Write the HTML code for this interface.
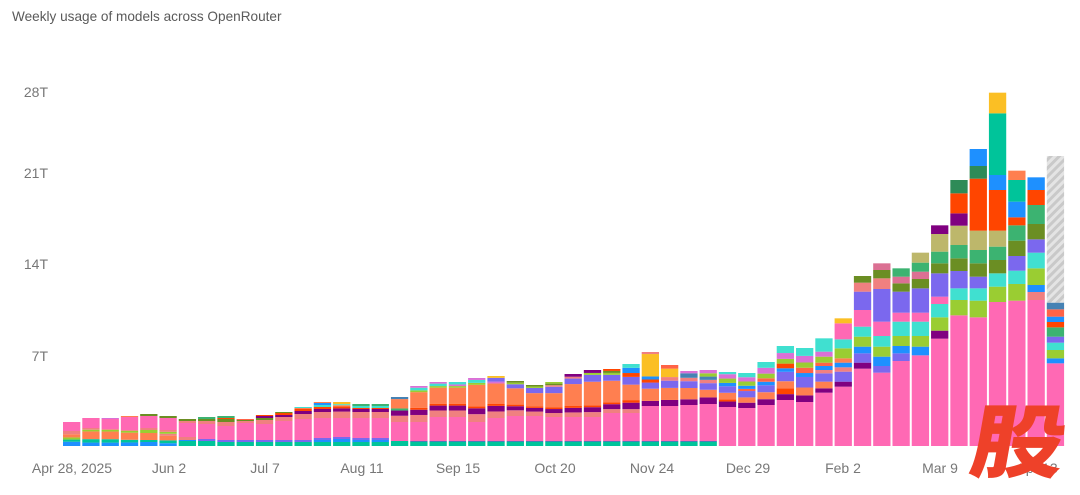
<!DOCTYPE html>
<html><head><meta charset="utf-8">
<style>
html,body{margin:0;padding:0;background:#fff;}
body{width:1080px;height:495px;position:relative;overflow:hidden;font-family:"Liberation Sans",sans-serif;}
.t{position:absolute;left:12px;top:9px;font-size:13.6px;color:#5a5a5a;white-space:nowrap;}
.y{position:absolute;right:1032px;font-size:14px;color:#777;transform:translateY(-50%);}
.x{position:absolute;top:460px;font-size:14px;color:#777;transform:translateX(-50%);white-space:nowrap;}
.wm{position:absolute;left:980px;top:397px;font-family:"Noto Sans CJK SC","WenQuanYi Zen Hei",sans-serif;font-weight:900;font-size:94px;line-height:94px;color:#ee4129;transform:skewX(-10deg) scaleY(0.85);transform-origin:0 0;}
svg{position:absolute;left:0;top:0;}
</style></head><body>
<div class="t">Weekly usage of models across OpenRouter</div>
<div class="y" style="top:92px">28T</div>
<div class="y" style="top:173px">21T</div>
<div class="y" style="top:264px">14T</div>
<div class="y" style="top:356px">7T</div>
<svg id="s" width="1080" height="495" xmlns="http://www.w3.org/2000/svg">
<defs><pattern id="h" width="6" height="6" patternUnits="userSpaceOnUse" patternTransform="rotate(45)"><rect width="6" height="6" fill="#e4e4e4"/><rect width="3" height="6" fill="#c9c9c9"/></pattern></defs>
</svg>
<div class="x" style="left:72px">Apr 28, 2025</div>
<div class="x" style="left:169px">Jun 2</div>
<div class="x" style="left:265px">Jul 7</div>
<div class="x" style="left:362px">Aug 11</div>
<div class="x" style="left:458px">Sep 15</div>
<div class="x" style="left:555px">Oct 20</div>
<div class="x" style="left:652px">Nov 24</div>
<div class="x" style="left:748px">Dec 29</div>
<div class="x" style="left:843px">Feb 2</div>
<div class="x" style="left:940px">Mar 9</div>
<div class="x" style="left:1037px">Apr 13</div>
<div class="wm">股</div>
<script>
const C={pk:'#ff69b4',pu:'#800080',or:'#ff7f50',mp:'#7b68ee',sa:'#f08080',bl:'#1e90ff',tq:'#40e0d0',gr:'#9acd32',ol:'#6b8e23',pv:'#db7093',sg:'#3cb371',kh:'#bdb76b',rd:'#ff4500',dg:'#2e8b57',tg:'#00c49a',gd:'#fbbf24',oc:'#da70d6',sb:'#4682b4',tm:'#ff6347'};
const B=446,W=17.3,P=19.29,X0=63;
const s=document.getElementById('s');
function r(x,y1,y2,c){if(y2-y1<=0)return;const e=document.createElementNS('http://www.w3.org/2000/svg','rect');e.setAttribute('x',x);e.setAttribute('y',y1);e.setAttribute('width',W);e.setAttribute('height',y2-y1);e.setAttribute('fill',c);s.appendChild(e);}
function fill(x,yb,yt,segs){
 let tot=0;segs.forEach(q=>tot+=q[1]);let y=yb;
 segs.forEach(q=>{const h=(yb-yt)*q[1]/tot;r(x,y-h,y,C[q[0]]||q[0]);y-=h;});}
function p(str){return str.split(' ').map(t=>{const m=t.match(/([a-z]+)(\d+)/);return [m[1],+m[2]];});}
const E=[
[422,422,431,'bl4 tg2 gr2 or3 sa3',''],
[418,418,428,'bl4 tg4 or9 gr2 sa2',''],
[418,419,429,'bl4 tg4 or9 gr2 sa1','oc1'],
[416,417,430,'bl4 tg3 or8 gr2 sa1','or1'],
[414,416,428,'bl4 tg2 or7 gr3 sa2','ol2'],
[416,418,430,'bl3 tg3 or5 sa2 gr2 sa2','ol2'],
[419,423,437,'tg5 bl1 sa3','sa2 ol2'],
[417,424,439,'tg5 mp2','sa3 ol2 sg2'],
[416,426,440,'tg4 mp2','sa4 ol3 rd1 sg2'],
[419,423,440,'tg4 mp2','sa2 ol1 tm1'],
[415,424,440,'tg4 mp2','sa4 ol2 pu2 rd1'],
[412,421,440,'tg4 mp2','sa4 pu2 rd2 ol1'],
[407,419,440,'tg4 mp2','sa5 pu3 rd2 or1 tq1'],
[402,418,438,'tg4 bl2 mp2','sa6 pu3 rd2 tq2 bl2 or1'],
[402,418,437,'tg4 bl3 mp2','sa6 pu3 rd2 or1 tq1 gd2'],
[404,418,438,'tg4 bl2 mp2','sa6 pu3 rd1 tq2 sg2'],
[404,418,438,'tg4 bl2 mp2','sa6 pu3 rd1 tq2 sg2'],
[397,422,441,'tg5','sa6 pu5 sg2 or9 sb2'],
];
const mid=[[386,422],[382,417],[382,417],[378,422],[376,418],[381,416],[385,416],[382,417],[374,417],[370,417],[369,413],[364,413],[352,406],[365,406],[371,405],[370,404],[372,407],[373,408],[362,405],[346,400],[348,402]];
const midAbove=[
'sa8 pu6 rd2 or18 gr2 tq3 oc2','sa8 pu6 rd2 or20 gr2 tq3 oc2','sa8 pu6 rd2 or20 gr2 oc2 tq3','sa8 pu6 rd2 or22 gr2 tq3 oc2','sa7 pu6 rd2 or22 oc2 mp4 gd2','sa7 pu5 rd2 or20 mp5 gr2 ol2',
'sa6 pu5 rd2 or18 mp7 gr2 ol2','sa5 pu5 rd2 or18 mp8 sa2 ol2 gr2','sa5 pu5 rd2 or24 mp6 sa2 pu3','sa5 pu5 rd2 or24 mp7 gr2 pu3','sa4 pu5 rd2 or22 mp6 gr2 ol2 rd2','sa3 pu5 rd2 or12 mp6 rd3 bl4 tq3',
'pu5 or12 mp6 rd3 bl3 gd22 sa2','pu5 or10 mp6 sa3 gd7 tm3','pu5 or10 mp6 sa3 sb4 oc2','pu6 or7 mp6 sa3 sb3 gr3 oc3','pu5 rd2 or6 mp6 bl3 gr4 oc4 tq2','pu5 or5 mp6 tm2 bl3 gr4 oc4 tq4',
'pu5 or6 mp6 bl3 tm3 gr4 oc5 tq5','pu5 rd5 or6 mp8 bl3 rd4 gr4 oc5 tq6','pu5 or6 mp8 bl3 tm4 gr4 oc5 tq6'];
let i=0;
E.forEach(d=>{const x=X0+P*i;fill(x,B,d[2],p(d[3]));r(x,d[1],d[2],C.pk);if(d[4])fill(x,d[1],d[0],p(d[4]));i++;});
mid.forEach((d,k)=>{const x=X0+P*i;const pb=i<=33?441:B;if(i<=33)fill(x,B,441,p('tg4 sb1'));r(x,d[1],pb,C.pk);fill(x,d[1],d[0],p(midAbove[k]));i++;});
const L=[
[938,[['pu',925],['or',905],['mp',880],['sa',870],['bl',858],['tm',848],['gr',830],['oc',815],['tq',775]]],
[920,[['pu',905],['mp',875],['sa',862],['bl',848],['or',835],['gr',805],['tq',778],['pk',730],['gd',715]]],
[866,[['pu',848],['mp',820],['bl',800],['gr',770],['tq',740],['pk',690],['mp',635],['sa',608],['ol',588]]],
[878,[['mp',858],['bl',830],['gr',800],['tq',768],['pk',725],['mp',627],['sa',595],['ol',570],['pv',550]]],
[843,[['mp',820],['bl',798],['gr',768],['tq',725],['pk',698],['mp',635],['ol',610],['pv',590],['sg',565]]],
[826,[['bl',800],['gr',768],['tq',725],['pk',698],['mp',625],['ol',597],['pv',575],['sg',548],['kh',518]]],
[776,[['pu',752],['gr',712],['tq',672],['pk',650],['mp',580],['ol',550],['sg',515],['kh',462],['pu',436]]],
[706,[['gr',660],['tq',625],['mp',573],['ol',535],['sg',495],['kh',437],['pu',400],['rd',340],['dg',300]]],
[712,[['gr',662],['tq',625],['mp',590],['ol',550],['sg',510],['kh',452],['rd',296],['dg',258],['bl',207]]],
[666,[['gr',620],['tq',580],['ol',540],['sg',500],['kh',452],['rd',330],['bl',285],['tg',100],['gd',38]]],
[662,[['gr',612],['tq',572],['mp',528],['ol',482],['sg',436],['rd',412],['bl',365],['tg',300],['or',272]]],
[660,[['sa',636],['bl',615],['gr',565],['tq',518],['mp',478],['ol',432],['sg',375],['rd',330],['bl',292]]],
[850,[['bl',835],['gr',810],['tq',788],['mp',770],['sg',742],['rd',726],['bl',710],['tm',688],['sb',668]]],
];
L.forEach(d=>{const x=X0+P*i;const py=v=>80+v/3;r(x,py(d[0]),B,C.pk);let prev=d[0];d[1].forEach(q=>{r(x,py(q[1]),py(prev),C[q[0]]);prev=q[1];});
 if(i==51){const e=document.createElementNS('http://www.w3.org/2000/svg','rect');e.setAttribute('x',x);e.setAttribute('y',156);e.setAttribute('width',W);e.setAttribute('height',py(668)-156);e.setAttribute('fill','url(#h)');s.appendChild(e);}
 i++;});
</script>
</body></html>
